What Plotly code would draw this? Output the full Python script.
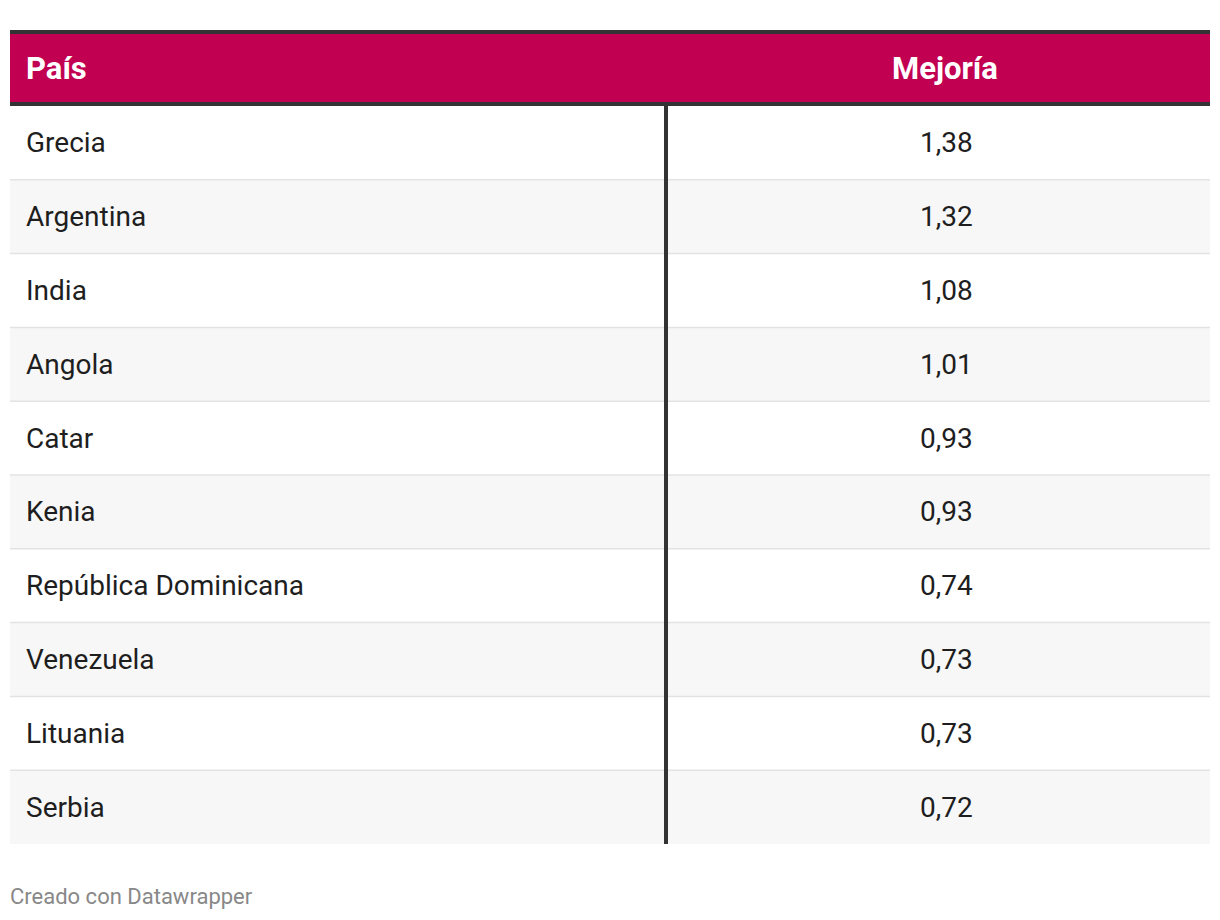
import plotly.graph_objects as go

# ---- data ----
columnas = ["País", "Mejoría"]
paises = ["Grecia", "Argentina", "India", "Angola", "Catar", "Kenia",
          "República Dominicana", "Venezuela", "Lituania", "Serbia"]
mejoria = [1.38, 1.32, 1.08, 1.01, 0.93, 0.93, 0.74, 0.73, 0.73, 0.72]
pie = "Creado con Datawrapper"

# ---- layout constants (page pixels) ----
PAGE_OFF = 8  # default body margin of the html page
W, H = 1220 - 2 * PAGE_OFF, 920 - 2 * PAGE_OFF
X0, X1 = 10, 1210
TOP = 30
HEAD_TOP, HEAD_BOT = 34, 102
BODY_TOP, BODY_BOT = 106, 844
DIV_X = 664
COL2_CENTER = 946.5
TEXT_X = 24
ROW_H = (BODY_BOT - BODY_TOP) / len(paises)

MAGENTA = "#c20052"
DARK = "#333333"
ALT = "#f7f7f7"
SEP = "#e3e3e3"
TXT = "#1e1e1e"
FONT = "Roboto"
BODY_SIZE = 28
HEAD_SIZE = 31

fig = go.Figure()
shapes = []
annotations = []

def rect(x0, y0, x1, y1, color):
    shapes.append(dict(type="rect", xref="x", yref="y", x0=x0, x1=x1, y0=y0, y1=y1,
                       fillcolor=color, line=dict(width=0), layer="below"))

# header
rect(X0, TOP, X1, HEAD_TOP, DARK)
rect(X0, HEAD_TOP, X1, HEAD_BOT, MAGENTA)
rect(X0, HEAD_BOT, X1, BODY_TOP, DARK)

# rows
for i, (p, v) in enumerate(zip(paises, mejoria)):
    y0 = BODY_TOP + i * ROW_H
    y1 = y0 + ROW_H
    if i % 2 == 1:
        rect(X0, y0, X1, y1, ALT)
    if i > 0:
        rect(X0, y0 - 0.75, X1, y0 + 0.75, SEP)
    yc = (y0 + y1) / 2
    annotations.append(dict(x=TEXT_X, y=yc, xref="x", yref="y", text=p, showarrow=False,
                            xanchor="left", yanchor="middle",
                            font=dict(family=FONT, size=BODY_SIZE, color=TXT)))
    annotations.append(dict(x=COL2_CENTER, y=yc, xref="x", yref="y",
                            text=f"{v:.2f}".replace(".", ","), showarrow=False,
                            xanchor="center", yanchor="middle",
                            font=dict(family=FONT, size=BODY_SIZE, color=TXT)))

# vertical divider
shapes.append(dict(type="rect", xref="x", yref="y", x0=DIV_X, x1=DIV_X + 4,
                   y0=BODY_TOP, y1=BODY_BOT, fillcolor=DARK, line=dict(width=0),
                   layer="below"))

# header text
hy = (HEAD_TOP + HEAD_BOT) / 2
annotations.append(dict(x=TEXT_X, y=hy, xref="x", yref="y", text=f"<b>{columnas[0]}</b>",
                        showarrow=False, xanchor="left", yanchor="middle",
                        font=dict(family=FONT, size=HEAD_SIZE, color="white")))
annotations.append(dict(x=945, y=hy, xref="x", yref="y", text=f"<b>{columnas[1]}</b>",
                        showarrow=False, xanchor="center", yanchor="middle",
                        font=dict(family=FONT, size=HEAD_SIZE, color="white")))

# footer
annotations.append(dict(x=X0 - 2, y=896, xref="x", yref="y", text=pie, showarrow=False,
                        xanchor="left", yanchor="middle",
                        font=dict(family=FONT, size=22, color="#888888")))

fig.update_layout(
    width=W, height=H,
    margin=dict(l=0, r=0, t=0, b=0),
    paper_bgcolor="white", plot_bgcolor="white",
    xaxis=dict(range=[PAGE_OFF, PAGE_OFF + W], visible=False, fixedrange=True),
    yaxis=dict(range=[PAGE_OFF + H, PAGE_OFF], visible=False, fixedrange=True),
    shapes=shapes, annotations=annotations, showlegend=False,
)

fig.write_html("out.html", config={"displayModeBar": False})
